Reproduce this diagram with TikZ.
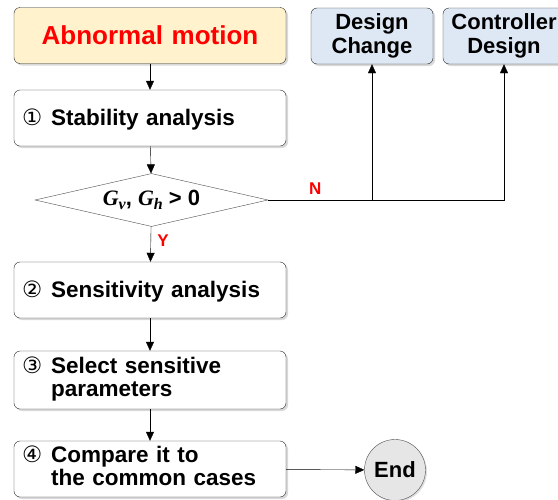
\documentclass[tikz,border=0pt]{standalone}
\usepackage{fontspec}
\setmainfont{Liberation Sans}
\newfontfamily\symfont{DejaVu Sans}
\newfontfamily\gainfont{Liberation Serif}
\usetikzlibrary{shapes.geometric,arrows.meta,shadows}

\definecolor{startfill}{HTML}{FFF2CC}
\definecolor{outfill}{HTML}{DEE8F4}
\definecolor{endfill}{HTML}{E6E6E6}
\definecolor{labelred}{HTML}{FF0000}

\tikzset{
    box/.style={draw=black!85, rounded corners=6pt, fill=white,
        text width=256pt, inner xsep=8pt, inner ysep=0pt,
        minimum height=56pt, align=left,
        font=\bfseries\fontsize{22.5}{23.5}\selectfont,
        drop shadow={shadow xshift=2pt, shadow yshift=-2pt, opacity=0.3}},
    oneline/.style={text height=19.5pt, text depth=4pt},
    outbox/.style={box, fill=outfill, text width=116pt, inner xsep=3pt,
        align=center, font=\bfseries\fontsize{22}{24}\selectfont},
    yesno/.style={text=labelred, font=\bfseries\fontsize{17}{19}\selectfont},
    >={Triangle[width=8pt,length=9pt]}
}

% circled step number
\newcommand{\stepno}[1]{{\symfont\mdseries #1}}
% gain symbol with its subscript
\newcommand{\gain}[1]{{\gainfont\bfseries\itshape G\raisebox{-0.35ex}{\fontsize{16}{16}\selectfont #1}}}

\begin{document}
\begin{tikzpicture}[x=1pt,y=-1pt]
    \path[use as bounding box, clip] (0,0) rectangle (558,499);

    \node[box, fill=startfill, align=center, text=labelred,
        font=\bfseries\fontsize{26}{28}\selectfont] (abnormal) at (150,35.5)
        {Abnormal motion};
    \node[box, oneline] (stability) at (150,118) {
        \begin{tabular}{@{}l@{\hspace{9pt}}l@{}}
            \stepno{①} & Stability analysis
        \end{tabular}
    };

    \node[diamond, draw=black!70, fill=white, aspect=4.4, inner sep=0pt,
        minimum width=233pt, minimum height=53pt,
        font=\bfseries\fontsize{22}{23}\selectfont] (check) at (151.5,200)
        {\gain{v}, \gain{h} > 0};

    \node[box, oneline] (sensitivity) at (150,290) {
        \begin{tabular}{@{}l@{\hspace{9pt}}l@{}}
            \stepno{②} & Sensitivity analysis
        \end{tabular}
    };
    \node[box, minimum height=58pt] (select) at (150,380) {
        \begin{tabular}{@{}l@{\hspace{9pt}}l@{}}
            \stepno{③} & Select sensitive\\
                       & parameters
        \end{tabular}
    };
    \node[box] (compare) at (150,469) {
        \begin{tabular}{@{}l@{\hspace{9pt}}l@{}}
            \stepno{④} & Compare it to\\
                       & the common cases
        \end{tabular}
    };

    \node[circle, draw=black!70, fill=endfill, minimum size=61pt, inner sep=0pt,
        font=\bfseries\fontsize{22}{23}\selectfont,
        drop shadow={shadow xshift=1.5pt, shadow yshift=-1.5pt, opacity=0.25}]
        (end) at (395,470) {End};

    \node[outbox] (designChange) at (372,36) {Design\\Change};
    \node[outbox] (controller) at (504,36) {Controller\\Design};

    \draw[->] (abnormal) -- (stability);
    \draw[->] (stability) -- (check);
    \draw[->] (check) -- node[yesno, right, pos=0.4, xshift=3pt] {Y} (sensitivity);
    \draw[->] (sensitivity) -- (select);
    \draw[->] (select) -- (compare);
    \draw[->] (compare) -- (end);
    \draw[->] (check.east) -| node[yesno, above, pos=0.1, yshift=2pt] {N} (controller.south);
    \draw[->] (check.east -| designChange.south) -- (designChange.south);
\end{tikzpicture}
\end{document}
